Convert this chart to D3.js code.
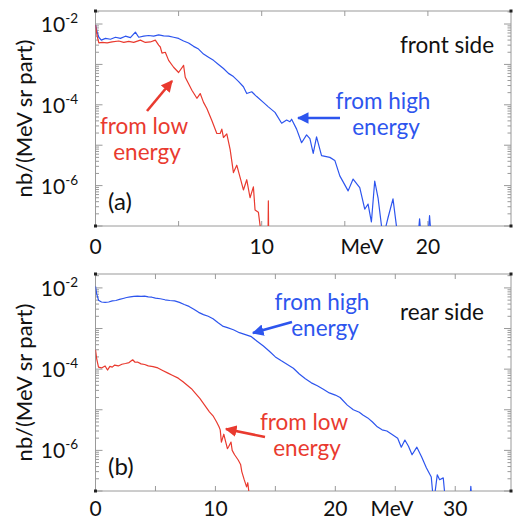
<!DOCTYPE html>
<html>
<head>
<meta charset="utf-8">
<script src="https://cdn.jsdelivr.net/npm/d3@7"></script>
<style>
body{margin:0;background:#fff;}
svg text{font-family:Lato,"Open Sans",sans-serif;}
</style>
</head>
<body>
<svg id="svg_canvas" width="513" height="521"></svg>
<script>
// front side (a)
var front_high_e=[0,0.1,0.2,0.35,0.6,0.9,1.2,1.5,1.8,2.1,2.4,2.6,2.9,3.2,3.5,3.8,4.1,4.4,4.7,5.0,5.3,5.6,5.9,6.2,6.5,6.8,7.1,7.4,7.7,8.0,8.3,8.6,8.9,9.1,9.4,9.7,10.1,10.4,10.8,11.2,11.5,11.7,11.8,12.1,12.4,12.7,12.9,13.1,13.3,13.6,14.1,14.4,14.7,15.2,15.5,15.9,16.2,16.4,16.6,16.8,17.0,17.3,17.6,17.9,18.2,19.4,19.5,19.6,20.0,20.1,20.2];
var front_high_v=[9.5e-3,6.3e-3,4.7e-3,4.0e-3,4.4e-3,4.2e-3,4.7e-3,4.4e-3,5.0e-3,4.6e-3,6.3e-3,4.7e-3,5.0e-3,5.2e-3,5.0e-3,5.4e-3,5.1e-3,5.0e-3,4.7e-3,4.4e-3,3.8e-3,3.4e-3,2.8e-3,2.4e-3,1.8e-3,1.5e-3,1.26e-3,1.0e-3,7.9e-4,6.0e-4,5.0e-4,3.8e-4,2.8e-4,1.9e-4,2.1e-4,1.6e-4,1.15e-4,8.9e-5,6.5e-5,3.5e-5,4.2e-5,3.8e-5,4.4e-5,2.5e-5,1.15e-5,1.8e-5,1.45e-5,6.3e-6,1.6e-5,5.5e-6,5.0e-6,4.2e-6,1.74e-6,7.4e-7,1.45e-6,8.9e-7,2.6e-7,3.5e-7,1.26e-7,1.3e-6,5.0e-7,5e-8,1.6e-7,4.7e-7,5e-8,5e-8,1.5e-7,5e-8,5e-8,1.8e-7,5e-8];

var front_low_e=[0,0.1,0.2,0.4,0.7,1.0,1.4,1.7,2.0,2.3,2.7,3.0,3.3,3.6,3.8,3.9,4.0,4.2,4.4,4.7,5.0,5.3,5.4,5.8,6.1,6.3,6.5,6.7,7.0,7.3,7.5,7.6,7.7,7.9,8.1,8.3,8.5,8.7,8.9,9.1,9.3,9.5,9.6,9.8,10.0,10.38,10.4,10.42];
var front_low_v=[9.5e-3,5.0e-3,3.4e-3,3.5e-3,3.4e-3,3.6e-3,3.8e-3,3.5e-3,3.7e-3,3.5e-3,4.0e-3,3.5e-3,3.6e-3,4.0e-3,3.0e-3,2.7e-3,1.9e-3,2.0e-3,1.26e-3,8.5e-4,6.3e-4,9.5e-4,4.8e-4,2.3e-4,1.45e-4,1.9e-4,1.15e-4,8.1e-5,4.1e-5,1.95e-5,1.95e-5,2.5e-5,1.55e-5,1.9e-5,7.9e-6,2.1e-6,3.2e-6,1.6e-6,7.8e-7,1.4e-6,5.0e-7,9.3e-7,2.5e-7,2.2e-7,5e-8,5e-8,4.2e-7,5e-8];

// rear side (b)
var rear_high_e=[0,0.1,0.25,0.5,0.8,1.1,1.4,1.7,2.0,2.3,2.6,2.9,3.2,3.5,3.8,4.1,4.4,4.7,5.0,5.4,5.8,6.2,6.6,7.0,7.4,7.8,8.2,8.6,9.0,9.4,9.8,10.2,10.6,11.0,11.5,12.0,12.5,13.0,13.5,14.0,14.5,15.0,15.5,16.0,16.5,17.0,17.5,18.0,18.5,19.0,19.5,20.0,20.4,21.0,21.5,22.0,22.3,22.7,23.1,23.5,23.9,24.3,24.8,25.2,25.5,25.8,26.1,26.4,26.8,27.2,27.6,28.0,28.2,28.5,28.7,29.0,29.2,31.2,31.3,31.4];
var rear_high_v=[1.1e-2,7.1e-3,5.0e-3,4.5e-3,4.4e-3,4.5e-3,4.8e-3,4.9e-3,5.2e-3,5.5e-3,5.8e-3,6.0e-3,6.2e-3,6.3e-3,6.2e-3,6.3e-3,6.0e-3,5.9e-3,5.6e-3,5.4e-3,5.1e-3,4.9e-3,4.8e-3,4.4e-3,3.9e-3,3.5e-3,3.0e-3,2.5e-3,2.2e-3,2.0e-3,1.74e-3,1.4e-3,1.15e-3,1.05e-3,9.3e-4,7.9e-4,7.1e-4,6.3e-4,4.8e-4,3.7e-4,2.75e-4,2.0e-4,1.6e-4,1.3e-4,1.05e-4,7.6e-5,5.8e-5,4.6e-5,3.9e-5,3.2e-5,2.6e-5,2.3e-5,2.0e-5,1.3e-5,1.0e-5,8.7e-6,7.4e-6,6.3e-6,5.0e-6,3.8e-6,3.2e-6,3.0e-6,2.4e-6,2.0e-6,1.2e-6,1.8e-6,1.26e-6,7.8e-7,1.2e-6,6.9e-7,3.7e-7,2.2e-7,5e-8,2.5e-7,1.9e-7,2.1e-7,5e-8,5e-8,1.3e-7,5e-8];

var rear_low_e=[0,0.1,0.25,0.5,0.8,1.0,1.2,1.4,1.6,1.9,2.2,2.5,2.8,3.1,3.3,3.5,3.8,4.1,4.4,4.8,5.2,5.6,6.0,6.4,6.9,7.3,7.7,8.0,8.3,8.7,9.1,9.5,9.8,10.1,10.3,10.4,10.5,10.7,10.8,11.0,11.1,11.3,11.4,11.6,11.9,12.1,12.2,12.4,12.6,12.7,12.9];
var rear_low_v=[3.0e-4,1.8e-4,1.12e-4,1.07e-4,1.2e-4,9.5e-5,1.17e-4,1.12e-4,1.26e-4,1.2e-4,1.32e-4,1.38e-4,1.45e-4,1.7e-4,1.48e-4,1.5e-4,1.35e-4,1.3e-4,1.2e-4,1.15e-4,1.07e-4,9.3e-5,8.1e-5,7.1e-5,6.0e-5,4.9e-5,3.9e-5,3.3e-5,2.6e-5,1.9e-5,1.3e-5,8.9e-6,7.1e-6,5.0e-6,3.8e-6,3.2e-6,1.6e-6,2.5e-6,1.9e-6,1.1e-6,1.23e-6,1.6e-6,1.0e-6,7.8e-7,5.8e-7,4.5e-7,3.0e-7,1.9e-7,1.26e-7,1.6e-7,5e-8];

var y_tick_exps=[-2,-4,-6];
var front_x_labels=[0,10,20];
var rear_x_labels=[0,10,20,30];

var blue="#2d55ee", red="#e93a2f";
var axis_grey="#9a9a9a";

var svg=d3.select("#svg_canvas");

var defs=svg.append("defs");
[["arrow_red",red],["arrow_blue",blue]].forEach(function(m){
	defs.append("marker")
		.attr("id",m[0])
		.attr("viewBox","0 0 10 10")
		.attr("refX",9).attr("refY",5)
		.attr("markerWidth",4.5).attr("markerHeight",4.5)
		.attr("markerUnits","strokeWidth")
		.attr("orient","auto")
		.append("path").attr("d","M0,0L10,5L0,10z").attr("fill",m[1]);
});

function panel(id, left, right, top, bottom, x_max, y_max, series, x_labels, mev_x, label_y, tag){

	var x=d3.scaleLinear().domain([0,x_max]).range([left,right]);
	var y=d3.scaleLog().domain([1e-7,y_max]).range([bottom,top]);

	defs.append("clipPath").attr("id","clip_"+id)
		.append("rect").attr("x",left).attr("y",top).attr("width",right-left).attr("height",bottom-top);

	var g=svg.append("g");

	// frame
	g.append("rect").attr("x",left).attr("y",top).attr("width",right-left).attr("height",bottom-top)
		.attr("fill","none").attr("stroke",axis_grey).attr("stroke-width",1);

	// x ticks top and bottom, every 5 MeV
	var xt=d3.range(5,x_max,5);
	xt.forEach(function(t){
		g.append("line").attr("x1",x(t)).attr("x2",x(t)).attr("y1",bottom).attr("y2",bottom-5).attr("stroke",axis_grey);
		g.append("line").attr("x1",x(t)).attr("x2",x(t)).attr("y1",top).attr("y2",top+5).attr("stroke",axis_grey);
	});

	// y ticks left and right (log)
	y.ticks().forEach(function(t){
		var e=Math.log10(t);
		var major=Math.abs(e-Math.round(e))<1e-6;
		var len=major?7:3.5;
		g.append("line").attr("x1",left).attr("x2",left+len).attr("y1",y(t)).attr("y2",y(t)).attr("stroke",axis_grey);
		g.append("line").attr("x1",right).attr("x2",right-len).attr("y1",y(t)).attr("y2",y(t)).attr("stroke",axis_grey);
	});

	// corner dots
	[[left,top],[left,bottom],[right,top],[right,bottom]].forEach(function(c){
		g.append("rect").attr("x",c[0]-1.5).attr("y",c[1]-1.5).attr("width",3).attr("height",3).attr("fill","#222");
	});

	// y labels
	y_tick_exps.forEach(function(e){
		var t=g.append("text").attr("x",78).attr("y",y(Math.pow(10,e))+8)
			.attr("text-anchor","end").attr("font-size",21).attr("fill","#111");
		t.append("tspan").text("10");
		t.append("tspan").attr("font-size",13.5).attr("dy",-9).text(String(e));
	});

	// x labels
	x_labels.forEach(function(v){
		g.append("text").attr("x",x(v)).attr("y",label_y).attr("text-anchor","middle")
			.attr("font-size",21).attr("fill","#111").text(v);
	});
	g.append("text").attr("x",mev_x).attr("y",label_y).attr("text-anchor","middle")
		.attr("font-size",21).attr("fill","#111").text("MeV");

	// y axis title
	g.append("text").attr("transform","translate(32,"+((top+bottom)/2)+") rotate(-90)")
		.attr("text-anchor","middle").attr("font-size",22).attr("fill","#111").text("nb/(MeV sr part)");

	// panel tag
	g.append("text").attr("x",108).attr("y",bottom-16).attr("font-size",24).attr("fill","#111").text(tag);

	var line=d3.line().x(function(d){return x(d[0]);}).y(function(d){return y(d[1]);});

	var plot=g.append("g").attr("clip-path","url(#clip_"+id+")");
	series.forEach(function(s){
		plot.append("path")
			.datum(d3.zip(s.e,s.v))
			.attr("fill","none").attr("stroke",s.color).attr("stroke-width",1.2)
			.attr("stroke-linejoin","round")
			.attr("d",line);
	});

	return g;
}

function label2(g,cx,y1,l1,l2,color){
	g.append("text").attr("x",cx).attr("y",y1).attr("text-anchor","middle").attr("font-size",22.5).attr("fill",color).text(l1);
	g.append("text").attr("x",cx+3).attr("y",y1+26).attr("text-anchor","middle").attr("font-size",22.5).attr("fill",color).text(l2);
}

function arrow(g,x1,y1,x2,y2,color,marker){
	g.append("line").attr("x1",x1).attr("y1",y1).attr("x2",x2).attr("y2",y2)
		.attr("stroke",color).attr("stroke-width",2.6).attr("marker-end","url(#"+marker+")");
}

var ga=panel("a",95.5,511,11,226,25,2.1e-2,
	[{e:front_high_e,v:front_high_v,color:blue},{e:front_low_e,v:front_low_v,color:red}],
	front_x_labels,362,254,"(a)");

ga.append("text").attr("x",447).attr("y",53).attr("text-anchor","middle").attr("font-size",22.5).attr("fill","#111").text("front side");
label2(ga,144,134,"from low","energy",red);
arrow(ga,147,111,172,81,red,"arrow_red");
label2(ga,383,109,"from high","energy",blue);
arrow(ga,340,118,298,118,blue,"arrow_blue");

var gb=panel("b",95.5,511,274,491,34.65,2.2e-2,
	[{e:rear_high_e,v:rear_high_v,color:blue},{e:rear_low_e,v:rear_low_v,color:red}],
	rear_x_labels,392,516,"(b)");

gb.append("text").attr("x",442).attr("y",320).attr("text-anchor","middle").attr("font-size",22.5).attr("fill","#111").text("rear side");
label2(gb,322,310,"from high","energy",blue);
arrow(gb,292,322,253,333,blue,"arrow_blue");
label2(gb,304,430,"from low","energy",red);
arrow(gb,265,437,226,429,red,"arrow_red");
</script>
</body>
</html>
